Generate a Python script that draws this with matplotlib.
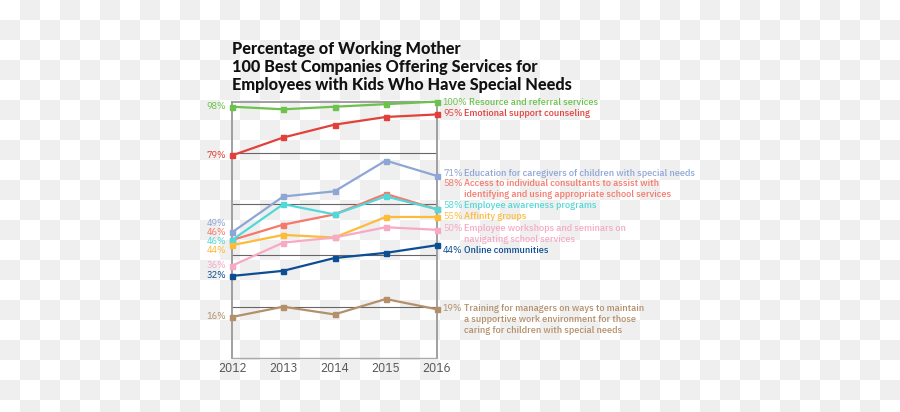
import matplotlib
matplotlib.use("Agg")
import matplotlib.pyplot as plt
import numpy as np

# data (percent of companies)
years = [2012, 2013, 2014, 2015, 2016]
resource_referral = [98, 97, 98, 99, 100]
emotional_support = [79, 86, 91, 94, 95]
education_caregivers = [49, 63, 65, 77, 71]
individual_consultants = [46, 52, 56, 64, 58]
awareness_programs = [46, 60, 56, 63, 58]
affinity_groups = [44, 48, 47, 55, 55]
workshops_seminars = [36, 45, 47, 51, 50]
online_communities = [32, 34, 39, 41, 44]
manager_training = [16, 20, 17, 23, 19]

series = [resource_referral, emotional_support, education_caregivers,
          individual_consultants, awareness_programs, affinity_groups,
          workshops_seminars, online_communities, manager_training]
names = [
    ["Resource and referral services"],
    ["Emotional support counseling"],
    ["Education for caregivers of children with special needs"],
    ["Access to individual consultants to assist with",
     "identifying and using appropriate school services"],
    ["Employee awareness programs"],
    ["Affinity groups"],
    ["Employee workshops and seminars on", "navigating school services"],
    ["Online communities"],
    ["Training for managers on ways to maintain",
     "a supportive work environment for those",
     "caring for children with special needs"],
]
colors = ["#6cc24a", "#e2413b", "#8ea6d6", "#f6786a", "#52d8d8",
          "#fdbb3a", "#f7a9c6", "#0d4e93", "#b38f6a"]
# label heights (data units) nudged so the end labels don't overlap
left_label_y = [98, 79, 52.4, 48.9, 45.3, 41.8, 35.9, 32, 16]
right_label_y = [99.7, 95.2, 72, 67.9, 59.3, 55.1, 50.6, 42.1, 19.4]

title = ("Percentage of Working Mother\n"
         "100 Best Companies Offering Services for\n"
         "Employees with Kids Who Have Special Needs")

cond = ["IBM Plex Sans Condensed", "Open Sans", "DejaVu Sans"]
plt.rcParams["font.family"] = cond

W, H = 900, 412
fig = plt.figure(figsize=(W / 100, H / 100), dpi=100)

# transparent-looking checker background
rr, cc = np.mgrid[0:H, 0:W]
odd = ((rr // 20 + cc // 20) % 2).astype(bool)
bg = np.ones((H, W, 3))
bg[odd] = 0xef / 255
fig.figimage(bg, 0, 0, zorder=-10)

ax = fig.add_axes([232 / W, (H - 358) / H, 205 / W, 256.4 / H])
ax.set_facecolor("none")
ax.set_xlim(2012, 2016)
ax.set_ylim(0, 100)

for s in ["left", "right", "top"]:
    ax.spines[s].set_color("#999999")
    ax.spines[s].set_linewidth(1.3)
ax.spines["bottom"].set_color("#aaaaaa")
ax.spines["bottom"].set_linewidth(1.0)
for g in [20, 40, 60, 80]:
    ax.axhline(g, color="#666666", lw=0.8, zorder=1)

ax.set_xticks(years)
ax.set_xticklabels([str(y) for y in years], fontsize=9.5, color="#555555")
ax.set_yticks([])
ax.tick_params(axis="x", length=0, pad=3)

for vals, col, nm, ly, ry in zip(series, colors, names, left_label_y, right_label_y):
    ax.plot(years, vals, color=col, lw=1.6, marker="s", ms=3.6,
            clip_on=False, zorder=3)
    ax.annotate(f"{vals[0]}%", xy=(years[0], ly), xytext=(-6, 0),
                textcoords="offset pixels", ha="right", va="center",
                fontsize=7.4, color=col)
    ax.annotate(f"{vals[-1]}%", xy=(years[-1], ry), xytext=(6, 0),
                textcoords="offset pixels", ha="left", va="center",
                fontsize=7.3, color=col)
    dx = 32 if vals[-1] >= 100 else 27
    for i, line in enumerate(nm):
        ax.annotate(line, xy=(years[-1], ry), xytext=(dx, -11 * i),
                    textcoords="offset pixels", ha="left", va="center",
                    fontsize=7.3, color=col, fontweight="medium")

fig.text(232 / W, 1 - 41 / H, title, ha="left", va="top", fontsize=11.7,
         fontweight="black", family=["Lato", "DejaVu Sans"],
         color="#111111", linespacing=1.17)

fig.savefig("out.png", dpi=100)
